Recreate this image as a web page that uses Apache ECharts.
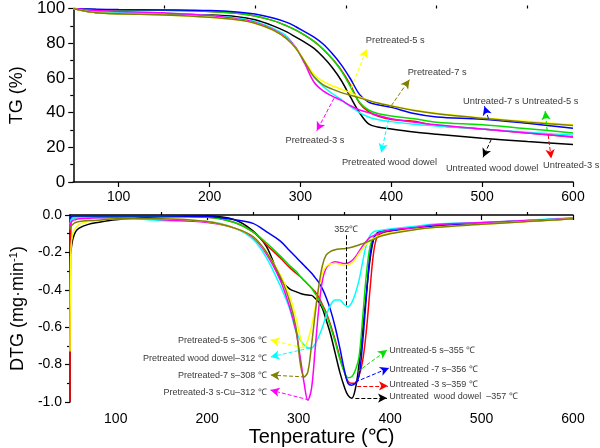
<!DOCTYPE html>
<html><head><meta charset="utf-8">
<script src="https://cdn.jsdelivr.net/npm/echarts@6/dist/echarts.min.js"></script>
<style>html,body{margin:0;padding:0;background:#fff}#c{width:600px;height:448px}</style>
</head><body><div id="c"></div><script>
// ---------- TG data (%) ----------
const T_TG = [50, 60, 75, 100, 150, 200, 230, 250, 270, 285, 295, 305, 315, 325, 335, 345, 355, 365, 375, 385, 400, 425, 450, 500, 550, 600];
const tgUntreatedWood = [100, 98.8, 97.6, 97, 96.6, 96.2, 95.3, 93.5, 90, 86.5, 83.5, 80.5, 77, 72, 66, 58.5, 49, 40, 33.5, 31.7, 30.5, 28.8, 27.5, 25.2, 23.3, 21.6];
const tgUntreated3 = [100, 99.7, 99.4, 99.2, 99, 98.3, 97.2, 95.7, 93, 90, 87.5, 84.5, 81, 76.5, 71, 64.5, 56, 45.5, 40.5, 38, 36, 35, 32.5, 30.5, 28.2, 26];
const tgUntreated5 = [100, 99.7, 99.4, 99.2, 99, 98.3, 97.2, 95.7, 93, 90, 87.5, 84.5, 81, 76.5, 71, 64, 55, 46, 41.5, 39.5, 38, 36.5, 34.5, 33, 30.7, 28.3];
const tgUntreated7 = [100, 99.8, 99.6, 99.4, 99.2, 98.8, 98, 96.8, 94.5, 92, 89.5, 86.5, 83.5, 79.5, 74, 67.5, 59.5, 50.5, 46, 44.5, 43, 39.5, 37.5, 36.2, 33.8, 31];
const tgPretreatedWood = [100, 99, 98.2, 97.8, 97.2, 96, 94.5, 92.5, 88.5, 84, 77, 69, 61, 55, 51, 47.5, 43.5, 40, 37.5, 36, 34.8, 33.3, 32.3, 30.5, 28.7, 27];
const tgPretreated3 = [100, 99.5, 98.8, 98.3, 97.5, 96, 94, 92, 88, 83, 77.5, 68, 57.5, 52.5, 49.5, 47, 44, 41.5, 40, 38.5, 36.5, 34.5, 33, 30.5, 28.2, 26];
const tgPretreated5 = [100, 98.8, 97.6, 97, 96.3, 95, 93.5, 91.5, 87.5, 82.5, 77, 69.5, 62, 58, 55.5, 53.5, 51.5, 49, 47, 45.5, 44, 41.5, 39.7, 37, 35, 33];
const tgPretreated7 = [100, 98.8, 97.6, 97, 96.3, 95, 93.5, 91.5, 87.5, 82.5, 77, 69, 60.5, 56, 53.5, 51.5, 50, 48.5, 47, 45.5, 43.8, 41.2, 39.3, 36.7, 34.5, 32.5];

// ---------- DTG data (mg/min) ----------
const T_DTG = [50, 51, 53, 56, 60, 70, 80, 100, 150, 200, 230, 250, 265, 280, 290, 297, 302, 306, 310, 314, 318, 322, 326, 330, 335, 340, 345, 350, 354, 358, 362, 366, 370, 374, 378, 382, 386, 392, 400, 425, 450, 500, 550, 600];
const dtgUntreatedWood = [-0.22, -0.19, -0.13, -0.09, -0.07, -0.05, -0.04, -0.025, -0.01, -0.005, -0.025, -0.085, -0.17, -0.34, -0.395, -0.41, -0.42, -0.425, -0.428, -0.43, -0.445, -0.465, -0.5, -0.56, -0.64, -0.74, -0.84, -0.92, -0.965, -0.98, -0.93, -0.8, -0.62, -0.42, -0.24, -0.13, -0.095, -0.085, -0.08, -0.068, -0.055, -0.043, -0.03, -0.017];
const dtgUntreated3 = [-1.0, -0.04, -0.02, -0.015, -0.012, -0.01, -0.01, -0.008, -0.008, -0.012, -0.04, -0.09, -0.16, -0.23, -0.28, -0.31, -0.33, -0.35, -0.37, -0.39, -0.41, -0.44, -0.48, -0.52, -0.59, -0.67, -0.76, -0.84, -0.89, -0.9, -0.9, -0.86, -0.78, -0.62, -0.4, -0.2, -0.115, -0.095, -0.085, -0.07, -0.058, -0.045, -0.032, -0.02];
const dtgUntreated5 = [-0.07, -0.03, -0.01, -0.01, -0.01, -0.01, -0.01, -0.008, -0.008, -0.012, -0.04, -0.09, -0.15, -0.22, -0.27, -0.3, -0.33, -0.35, -0.37, -0.39, -0.42, -0.45, -0.49, -0.53, -0.6, -0.68, -0.77, -0.84, -0.87, -0.865, -0.83, -0.76, -0.55, -0.32, -0.17, -0.12, -0.1, -0.09, -0.085, -0.07, -0.058, -0.045, -0.033, -0.02];
const dtgUntreated7 = [-0.02, -0.01, -0.005, -0.005, -0.005, -0.005, -0.005, -0.005, -0.005, -0.008, -0.025, -0.045, -0.09, -0.14, -0.19, -0.225, -0.25, -0.27, -0.29, -0.31, -0.335, -0.36, -0.395, -0.44, -0.51, -0.6, -0.71, -0.83, -0.9, -0.91, -0.9, -0.86, -0.68, -0.44, -0.22, -0.125, -0.1, -0.09, -0.085, -0.07, -0.058, -0.045, -0.033, -0.02];
const dtgPretreatedWood = [-0.05, -0.03, -0.02, -0.015, -0.015, -0.015, -0.015, -0.015, -0.03, -0.035, -0.07, -0.13, -0.23, -0.38, -0.5, -0.62, -0.67, -0.695, -0.71, -0.713, -0.69, -0.65, -0.6, -0.54, -0.48, -0.455, -0.455, -0.48, -0.49, -0.47, -0.42, -0.35, -0.25, -0.16, -0.11, -0.09, -0.085, -0.08, -0.075, -0.062, -0.048, -0.04, -0.028, -0.015];
const dtgPretreated3 = [-0.07, -0.04, -0.03, -0.025, -0.02, -0.018, -0.015, -0.015, -0.025, -0.04, -0.07, -0.12, -0.21, -0.35, -0.49, -0.62, -0.77, -0.9, -0.99, -0.93, -0.72, -0.5, -0.35, -0.285, -0.26, -0.25, -0.255, -0.26, -0.257, -0.245, -0.225, -0.195, -0.165, -0.14, -0.12, -0.11, -0.1, -0.09, -0.08, -0.068, -0.052, -0.04, -0.03, -0.017];
const dtgPretreated5 = [-0.73, -0.18, -0.1, -0.07, -0.05, -0.035, -0.03, -0.02, -0.02, -0.035, -0.07, -0.115, -0.2, -0.32, -0.43, -0.55, -0.66, -0.71, -0.67, -0.6, -0.5, -0.39, -0.31, -0.275, -0.262, -0.258, -0.262, -0.27, -0.268, -0.255, -0.235, -0.205, -0.18, -0.155, -0.135, -0.125, -0.115, -0.105, -0.095, -0.078, -0.065, -0.05, -0.035, -0.02];
const dtgPretreated7 = [-0.08, -0.06, -0.05, -0.04, -0.035, -0.03, -0.028, -0.02, -0.02, -0.035, -0.07, -0.115, -0.2, -0.33, -0.46, -0.6, -0.8, -0.865, -0.84, -0.7, -0.53, -0.38, -0.27, -0.215, -0.195, -0.186, -0.182, -0.18, -0.177, -0.172, -0.166, -0.16, -0.153, -0.146, -0.138, -0.13, -0.12, -0.11, -0.1, -0.08, -0.066, -0.05, -0.035, -0.02];

const seriesNames = ['Untreated wood dowel', 'Untreated-3 s', 'Untreated-5 s', 'Untreated-7 s', 'Pretreated wood dowel', 'Pretreated-3 s', 'Pretreated-5 s', 'Pretreated-7 s'];
const seriesColors = ['#000000', '#ff0000', '#00e000', '#0000ff', '#00ffff', '#ff00ff', '#ffff00', '#808000'];
const tgValues = [tgUntreatedWood, tgUntreated3, tgUntreated5, tgUntreated7, tgPretreatedWood, tgPretreated3, tgPretreated5, tgPretreated7];
const dtgValues = [dtgUntreatedWood, dtgUntreated3, dtgUntreated5, dtgUntreated7, dtgPretreatedWood, dtgPretreated3, dtgPretreated5, dtgPretreated7];

// tick labels
const xTicks = [100, 200, 300, 400, 500, 600];
const xMinorTicks = [150, 250, 350, 450, 550];

// annotations (data coordinates): arrows [from, to] per series, texts
const tgArrows = [
  [[510, 24.5], [501, 14.2]],
  [[572.7, 27], [576, 13.6]],
  [[571.6, 29.5], [569.4, 40.9]],
  [[507, 36.5], [502.5, 43.7]],
  [[397, 36], [389, 17]],
  [[337, 48.3], [318, 29.5]],
  [[353.5, 51], [373, 76.7]],
  [[400, 44], [420, 59]]
];
const tgTexts = [
  ['Untreated wood dowel', 511, 8, 'center'],
  ['Untreated-3 s', 598, 9.7, 'center'],
  ['Untreated-5 s', 575, 46.6, 'center'],
  ['Untreated-7 s', 510, 46.6, 'center'],
  ['Pretreated wood dowel', 398, 11.4, 'center'],
  ['Pretreated-3 s', 316, 23.9, 'center'],
  ['Pretreated-5 s', 372, 81.8, 'left'],
  ['Pretreated-7 s', 418, 63, 'left']
];
const dtgArrows = [
  [[362, -0.979], [396.6, -0.979]],
  [[364, -0.914], [397.7, -0.914]],
  [[364, -0.84], [396.6, -0.722]],
  [[362, -0.893], [398.8, -0.818]],
  [[312.4, -0.711], [269.2, -0.759]],
  [[311.3, -0.989], [269.2, -0.936]],
  [[305, -0.711], [269.2, -0.668]],
  [[307, -0.866], [269.2, -0.856]]
];
const dtgTexts = [
  ['Untreated  wood dowel  \u2013357 \u2103', 399, -0.972, 'left'],
  ['Untreated -3 s\u2013359 \u2103', 399, -0.909, 'left'],
  ['Untreated-5 s\u2013355 \u2103', 399, -0.726, 'left'],
  ['Untreated -7 s\u2013356 \u2103', 399, -0.824, 'left'],
  ['Pretreated wood dowel\u2013312 \u2103', 265, -0.77, 'right'],
  ['Pretreated-3 s-Cu\u2013312 \u2103', 265, -0.948, 'right'],
  ['Pretreated-5 s\u2013306 \u2103', 265, -0.672, 'right'],
  ['Pretreated-7 s\u2013308 \u2103', 265, -0.859, 'right'],
  ['352\u2103', 352, -0.08, 'center']
];
const peakLine = [[352, -0.108], [352, -0.49]];

// ---------- chart ----------
const FONT = 'Liberation Sans, Arial, sans-serif';
const chart = echarts.init(document.getElementById('c'), null, {renderer: 'canvas'});

function xMain(gridIndex, margin, name) {
  return {
    type: 'value', gridIndex, min: 50, max: 600,
    axisLine: {show: true, lineStyle: {color: '#000', width: 1.5}},
    axisTick: {show: true, customValues: xTicks, length: 5, lineStyle: {color: '#000', width: 1.2}},
    axisLabel: {show: true, customValues: xTicks, color: '#000', fontSize: 14, fontFamily: FONT, margin},
    splitLine: {show: false},
    name: name || '', nameLocation: 'middle', nameGap: 25,
    nameTextStyle: {color: '#000', fontSize: 20, fontFamily: FONT}
  };
}
function xMinor(gridIndex) {
  return {
    type: 'value', gridIndex, min: 50, max: 600,
    axisLine: {show: false},
    axisTick: {show: true, customValues: xMinorTicks, length: 3, lineStyle: {color: '#000', width: 1.2}},
    axisLabel: {show: false}, splitLine: {show: false}
  };
}

const series = [];
seriesNames.forEach((nm, i) => {
  series.push({
    name: nm, type: 'line', xAxisIndex: 0, yAxisIndex: 0,
    data: T_TG.map((t, k) => [t, tgValues[i][k]]),
    showSymbol: false, smooth: 0.35, lineStyle: {color: seriesColors[i], width: 1.5},
    markLine: {
      silent: true, symbol: ['none', 'arrow'], symbolSize: [7, 9],
      lineStyle: {color: seriesColors[i], type: 'dashed', width: 1},
      label: {show: false},
      data: [[{coord: tgArrows[i][0]}, {coord: tgArrows[i][1]}]]
    }
  });
});
seriesNames.forEach((nm, i) => {
  series.push({
    name: nm, type: 'line', xAxisIndex: 2, yAxisIndex: 1,
    data: T_DTG.map((t, k) => [t, dtgValues[i][k]]),
    showSymbol: false, smooth: 0.35, lineStyle: {color: seriesColors[i], width: 1.5},
    markLine: {
      silent: true, symbol: ['none', 'arrow'], symbolSize: [7, 9],
      lineStyle: {color: seriesColors[i], type: 'dashed', width: 1},
      label: {show: false},
      data: [[{coord: dtgArrows[i][0]}, {coord: dtgArrows[i][1]}]]
    }
  });
});
// 352 °C dashed marker
series.push({
  type: 'line', xAxisIndex: 2, yAxisIndex: 1, data: [], silent: true,
  markLine: {
    silent: true, symbol: ['none', 'none'],
    lineStyle: {color: '#000', type: 'dashed', width: 1}, label: {show: false},
    data: [[{coord: peakLine[0]}, {coord: peakLine[1]}]]
  }
});
// text annotations
function textSeries(list, xi, yi, fs) {
  return {
    type: 'scatter', xAxisIndex: xi, yAxisIndex: yi, symbolSize: 0, silent: true, z: 10,
    data: list.map(d => ({
      value: [d[1], d[2]], name: d[0],
      label: {show: true, position: 'inside', align: d[3], verticalAlign: 'middle',
              formatter: d[0], color: '#000', fontSize: fs, fontFamily: FONT}
    }))
  };
}
series.push(textSeries(tgTexts, 0, 0, 9.3));
series.push(textSeries(dtgTexts, 2, 1, 9));

chart.setOption({
  animation: false,
  backgroundColor: '#fff',
  grid: [
    {left: 64, top: 6, width: 509, height: 176},
    {left: 64, top: 215, width: 509, height: 187}
  ],
  xAxis: [xMain(0, 8), xMinor(0), xMain(1, 10, 'Tenperature (\u2103)'), xMinor(1)],
  yAxis: [
    {
      type: 'value', gridIndex: 0, min: 0, max: 100, interval: 20,
      axisLine: {show: true, lineStyle: {color: '#000', width: 1.5}},
      axisTick: {show: true, length: 5, lineStyle: {color: '#000', width: 1.2}},
      minorTick: {show: true, splitNumber: 2, length: 3, lineStyle: {color: '#000', width: 1.2}},
      axisLabel: {color: '#000', fontSize: 17, fontFamily: FONT, margin: 8},
      splitLine: {show: false},
      name: 'TG (%)', nameLocation: 'middle', nameGap: 41,
      nameTextStyle: {color: '#000', fontSize: 18, fontFamily: FONT}
    },
    {
      type: 'value', gridIndex: 1, min: -1, max: 0, interval: 0.2,
      axisLine: {show: true, lineStyle: {color: '#000', width: 1.5}},
      axisTick: {show: true, length: 5, lineStyle: {color: '#000', width: 1.2}},
      minorTick: {show: true, splitNumber: 2, length: 3, lineStyle: {color: '#000', width: 1.2}},
      axisLabel: {color: '#000', fontSize: 14, fontFamily: FONT, margin: 8,
                  formatter: v => v.toFixed(1)},
      splitLine: {show: false},
      name: 'DTG (mg\u00b7min{sup|-1})', nameLocation: 'middle', nameGap: 41,
      nameTextStyle: {color: '#000', fontSize: 18, fontFamily: FONT,
        rich: {sup: {fontSize: 11, fontFamily: FONT, color: '#000', padding: [0, 0, 9, 0]}}}
    }
  ],
  series
});
</script></body></html>
